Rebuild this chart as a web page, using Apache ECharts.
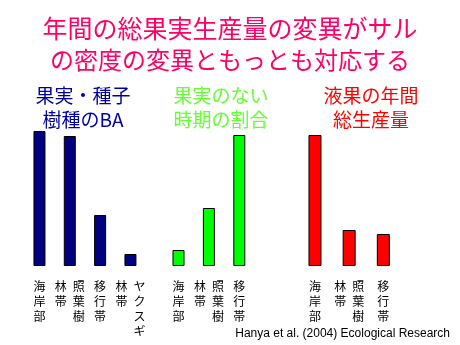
<!DOCTYPE html>
<html>
<head>
<meta charset="utf-8">
<script src="https://cdn.jsdelivr.net/npm/echarts@6/dist/echarts.min.js"></script>
<style>html,body{margin:0;padding:0;background:#fff;}#c{width:460px;height:345px;}</style>
</head>
<body>
<div id="c"></div>
<script>
// Data (relative heights)
var baCategories = ['海岸部', '照葉樹林帯', '移行帯', 'ヤクスギ林帯'];
var baValues = [135, 130, 51, 12];
var noFruitCategories = ['海岸部', '照葉樹林帯', '移行帯'];
var noFruitValues = [16, 58, 131];
var fleshyCategories = ['海岸部', '照葉樹林帯', '移行帯'];
var fleshyValues = [131, 36, 32];

var titleLine1 = '年間の総果実生産量の変異がサル';
var titleLine2 = 'の密度の変異ともっとも対応する';
var baLabel = '果実・種子\n樹種のBA';
var noFruitLabel = '果実のない\n時期の割合';
var fleshyLabel = '液果の年間\n総生産量';
var citation = 'Hanya et al. (2004) Ecological Research';

var CJK = '"Noto Sans CJK JP", "Noto Sans CJK SC", sans-serif';

function verticalLabel(name) {
  var cols;
  if (name.length > 3 && name.slice(-2) === '林帯') {
    cols = [name.slice(-2), name.slice(0, -2)]; // left column, right column
  } else {
    cols = [name];
  }
  var n = Math.max.apply(null, cols.map(function (c) { return c.length; }));
  var lines = [];
  for (var i = 0; i < n; i++) {
    var parts = cols.map(function (c) { return '{c|' + (c[i] || '　') + '}'; });
    lines.push(parts.join('{g| }'));
  }
  return lines.join('\n');
}

var rich = {
  c: { width: 12, align: 'center', fontSize: 12, lineHeight: 15, fontFamily: CJK, color: '#000' },
  g: { width: 6, fontSize: 12, lineHeight: 15 }
};

var groups = [
  { cats: baCategories, vals: baValues, color: '#000080', left: 24.3, width: 121.3, bw: 12 },
  { cats: noFruitCategories, vals: noFruitValues, color: '#00ff00', left: 163.3, width: 91.2, bw: 12 },
  { cats: fleshyCategories, vals: fleshyValues, color: '#ff0000', left: 297.9, width: 102.5, bw: 13 }
];

var option = {
  backgroundColor: '#fff',
  animation: false,
  title: [
    { text: titleLine1, left: 'center', top: 16, padding: 0,
      textStyle: { color: '#ff0066', fontSize: 25, fontWeight: 'normal', fontFamily: CJK } },
    { text: titleLine2, left: 'center', top: 48, padding: 0,
      textStyle: { color: '#ff0066', fontSize: 24, fontWeight: 'normal', fontFamily: CJK } }
  ],
  graphic: [
    { type: 'text', x: 83, y: 84, style: { text: baLabel, align: 'center', verticalAlign: 'top',
      fontSize: 19, lineHeight: 24, fontFamily: CJK, fill: '#0000a0' } },
    { type: 'text', x: 221, y: 84, style: { text: noFruitLabel, align: 'center', verticalAlign: 'top',
      fontSize: 19, lineHeight: 24, fontFamily: CJK, fill: '#66ff33' } },
    { type: 'text', x: 371, y: 84, style: { text: fleshyLabel, align: 'center', verticalAlign: 'top',
      fontSize: 19, lineHeight: 24, fontFamily: CJK, fill: '#ff0000' } },
    { type: 'text', x: 450, y: 328, style: { text: citation, align: 'right', verticalAlign: 'top',
      fontSize: 12, fontFamily: '"Liberation Sans", Arial, sans-serif', fill: '#000' } }
  ],
  grid: [],
  xAxis: [],
  yAxis: [],
  series: []
};

groups.forEach(function (g, i) {
  option.grid.push({ left: g.left, width: g.width, top: 126, bottom: 79, containLabel: false });
  option.xAxis.push({
    type: 'category', gridIndex: i, data: g.cats,
    axisLine: { show: false }, axisTick: { show: false }, splitLine: { show: false },
    axisLabel: { interval: 0, margin: 13, formatter: verticalLabel, rich: rich }
  });
  option.yAxis.push({
    type: 'value', gridIndex: i, min: 0, max: 140,
    show: false, splitLine: { show: false }
  });
  option.series.push({
    type: 'bar', xAxisIndex: i, yAxisIndex: i, data: g.vals, barWidth: g.bw,
    itemStyle: { color: g.color, borderColor: '#000', borderWidth: 1 }
  });
});

var chart = echarts.init(document.getElementById('c'), null, { renderer: 'canvas' });
chart.setOption(option);
</script>
</body>
</html>
